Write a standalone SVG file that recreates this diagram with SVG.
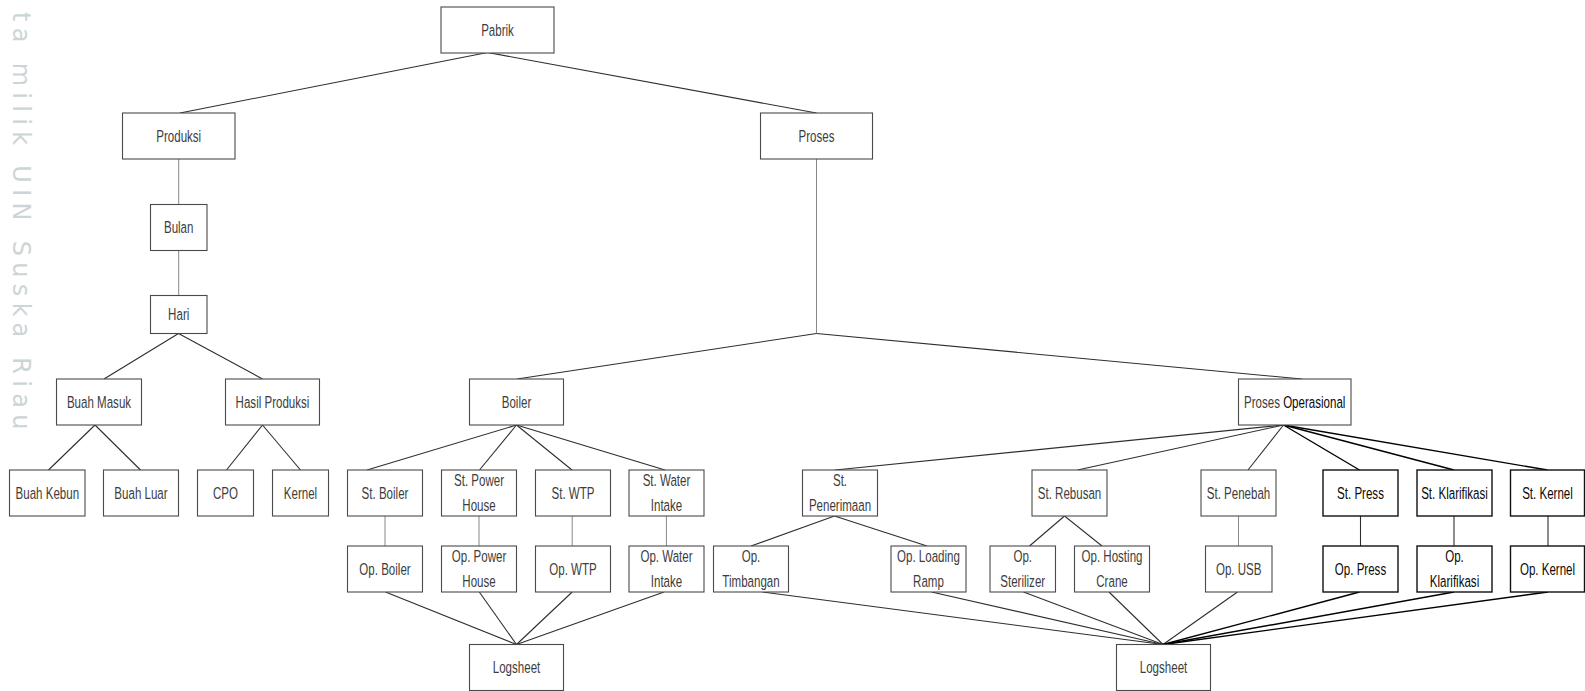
<svg xmlns="http://www.w3.org/2000/svg" width="1585" height="691" viewBox="0 0 1585 691">
  <style>
    .box { fill: #ffffff; stroke: #4a4a4a; stroke-width: 1.1; }
    .box.dark { stroke: #111111; stroke-width: 1.4; }
    text { font-family: "Liberation Sans", Arial, sans-serif; font-size: 16.5px; fill: #3d3d3d; text-anchor: middle; dominant-baseline: central; }
    text.dark, tspan.dark { fill: #0a0a0a; }
    .wm { font-family: "DejaVu Sans", sans-serif; font-size: 24px; fill: #ccd5d5; text-anchor: start; dominant-baseline: alphabetic; letter-spacing: 6.3px; }
    #connectors line { stroke: #2e2e2e; stroke-width: 1.1; }
    #connectors line.thin { stroke: #7a7a7a; stroke-width: 0.9; }
    #connectors line.dark { stroke: #000000; stroke-width: 1.4; }
  </style>

  <rect width="1585" height="691" fill="#ffffff"/>

  <!-- side watermark -->
  <text class="wm" transform="translate(13,12) rotate(90)">ta milik UIN Suska Riau</text>

  <!-- connectors -->
  <g id="connectors">
    <line x1="487.5" y1="52.5" x2="180" y2="113"/>
    <line x1="487.5" y1="52.5" x2="816.5" y2="113"/>
    <line class="thin" x1="178.7" y1="159" x2="178.7" y2="204.5"/>
    <line class="thin" x1="178.7" y1="250.5" x2="178.7" y2="295.5"/>
    <line x1="178.5" y1="333.5" x2="104" y2="379"/>
    <line x1="178.5" y1="333.5" x2="262.5" y2="379"/>
    <line x1="95" y1="425" x2="48.5" y2="470"/>
    <line x1="95" y1="425" x2="140.5" y2="470"/>
    <line x1="262.5" y1="425" x2="226.5" y2="470"/>
    <line x1="262.5" y1="425" x2="300.5" y2="470"/>

    <line class="thin" x1="816.5" y1="159" x2="816.5" y2="333.5"/>
    <line x1="816.5" y1="333.5" x2="517" y2="379"/>
    <line x1="816.5" y1="333.5" x2="1302" y2="379"/>

    <line x1="516.5" y1="425" x2="367" y2="470"/>
    <line x1="516.5" y1="425" x2="479.5" y2="470"/>
    <line x1="516.5" y1="425" x2="572" y2="470"/>
    <line x1="516.5" y1="425" x2="665" y2="470"/>
    <line class="thin" x1="385" y1="516" x2="385" y2="546"/>
    <line class="thin" x1="479" y1="516" x2="479" y2="546"/>
    <line class="thin" x1="572.2" y1="516" x2="572.2" y2="546"/>
    <line class="thin" x1="666.4" y1="516" x2="666.4" y2="546"/>
    <line x1="385.5" y1="592" x2="516.5" y2="644.5"/>
    <line x1="479.3" y1="592" x2="516.5" y2="644.5"/>
    <line x1="572.2" y1="592" x2="516.5" y2="644.5"/>
    <line x1="664" y1="592" x2="516.5" y2="644.5"/>

    <line x1="1283.5" y1="425" x2="835" y2="470"/>
    <line x1="1283.5" y1="425" x2="1077.5" y2="470"/>
    <line x1="1283.5" y1="425" x2="1248" y2="470"/>
    <line class="dark" x1="1283.5" y1="425" x2="1359.5" y2="470"/>
    <line class="dark" x1="1283.5" y1="425" x2="1454" y2="470"/>
    <line class="dark" x1="1283.5" y1="425" x2="1547.5" y2="470"/>
    <line x1="834.5" y1="516" x2="751" y2="546"/>
    <line x1="834.5" y1="516" x2="927" y2="546"/>
    <line x1="1064.5" y1="516" x2="1029.5" y2="546"/>
    <line x1="1064.5" y1="516" x2="1102" y2="546"/>
    <line class="thin" x1="1238.5" y1="516" x2="1238.5" y2="546"/>
    <line x1="1360.5" y1="516" x2="1360.5" y2="546"/>
    <line x1="1454" y1="516" x2="1454" y2="546"/>
    <line x1="1548" y1="516" x2="1548" y2="546"/>
    <line x1="762.5" y1="592" x2="1163" y2="644.5"/>
    <line x1="931.5" y1="592" x2="1163" y2="644.5"/>
    <line x1="1023.5" y1="592" x2="1163" y2="644.5"/>
    <line x1="1109" y1="592" x2="1163" y2="644.5"/>
    <line x1="1237.5" y1="592" x2="1163" y2="644.5"/>
    <line class="dark" x1="1359.5" y1="592" x2="1163" y2="644.5"/>
    <line class="dark" x1="1454" y1="592" x2="1163" y2="644.5"/>
    <line class="dark" x1="1548" y1="592" x2="1163" y2="644.5"/>
  </g>

  <!-- labels are set in a narrowed sans: translate to the label centre, then compress horizontally -->
  <!-- top level -->
  <g id="n-pabrik"><rect class="box" x="441" y="7" width="113" height="46"/><text transform="translate(497.5 30) scale(.7 1)">Pabrik</text></g>
  <g id="n-produksi"><rect class="box" x="122.5" y="113" width="112.5" height="46"/><text transform="translate(178.7 136) scale(.7 1)">Produksi</text></g>
  <g id="n-proses"><rect class="box" x="760.5" y="113" width="112" height="46"/><text transform="translate(816.5 136) scale(.7 1)">Proses</text></g>

  <!-- production branch -->
  <g id="n-bulan"><rect class="box" x="150.5" y="204.5" width="56.5" height="46"/><text transform="translate(178.7 227.5) scale(.7 1)">Bulan</text></g>
  <g id="n-hari"><rect class="box" x="150.5" y="295.5" width="56.5" height="38"/><text transform="translate(178.7 314.5) scale(.7 1)">Hari</text></g>
  <g id="n-buah-masuk"><rect class="box" x="56.5" y="379" width="85" height="46"/><text transform="translate(99 402) scale(.7 1)">Buah Masuk</text></g>
  <g id="n-hasil-produksi"><rect class="box" x="225.5" y="379" width="94" height="46"/><text transform="translate(272.5 402) scale(.7 1)">Hasil Produksi</text></g>
  <g id="n-buah-kebun"><rect class="box" x="9.5" y="470" width="75.5" height="46"/><text transform="translate(47.3 493) scale(.7 1)">Buah Kebun</text></g>
  <g id="n-buah-luar"><rect class="box" x="103.5" y="470" width="75" height="46"/><text transform="translate(141 493) scale(.7 1)">Buah Luar</text></g>
  <g id="n-cpo"><rect class="box" x="197.5" y="470" width="56" height="46"/><text transform="translate(225.5 493) scale(.7 1)">CPO</text></g>
  <g id="n-kernel"><rect class="box" x="272.5" y="470" width="56" height="46"/><text transform="translate(300.5 493) scale(.7 1)">Kernel</text></g>

  <!-- boiler branch -->
  <g id="n-boiler"><rect class="box" x="469.5" y="379" width="94" height="46"/><text transform="translate(516.5 402) scale(.7 1)">Boiler</text></g>
  <g id="n-st-boiler"><rect class="box" x="347.5" y="470" width="75" height="46"/><text transform="translate(385 493) scale(.7 1)">St. Boiler</text></g>
  <g id="n-st-power-house"><rect class="box" x="441.5" y="470" width="75" height="46"/><text transform="translate(479 480.7) scale(.7 1)">St. Power</text><text transform="translate(479 505) scale(.7 1)">House</text></g>
  <g id="n-st-wtp"><rect class="box" x="535.5" y="470" width="75" height="46"/><text transform="translate(573 493) scale(.7 1)">St. WTP</text></g>
  <g id="n-st-water-intake"><rect class="box" x="629" y="470" width="75" height="46"/><text transform="translate(666.5 480.7) scale(.7 1)">St. Water</text><text transform="translate(666.5 505) scale(.7 1)">Intake</text></g>
  <g id="n-op-boiler"><rect class="box" x="347.5" y="546" width="75" height="46"/><text transform="translate(385 569) scale(.7 1)">Op. Boiler</text></g>
  <g id="n-op-power-house"><rect class="box" x="441.5" y="546" width="75" height="46"/><text transform="translate(479 556.7) scale(.7 1)">Op. Power</text><text transform="translate(479 581) scale(.7 1)">House</text></g>
  <g id="n-op-wtp"><rect class="box" x="535.5" y="546" width="75" height="46"/><text transform="translate(573 569) scale(.7 1)">Op. WTP</text></g>
  <g id="n-op-water-intake"><rect class="box" x="629" y="546" width="75" height="46"/><text transform="translate(666.5 556.7) scale(.7 1)">Op. Water</text><text transform="translate(666.5 581) scale(.7 1)">Intake</text></g>
  <g id="n-logsheet-boiler"><rect class="box" x="469.5" y="644.5" width="94" height="46"/><text transform="translate(516.5 667.5) scale(.7 1)">Logsheet</text></g>

  <!-- operational branch -->
  <g id="n-proses-operasional"><rect class="box" x="1238.5" y="379" width="112.5" height="46"/><text transform="translate(1294.7 402) scale(.7 1)">Proses <tspan class="dark">Operasional</tspan></text></g>
  <g id="n-st-penerimaan"><rect class="box" x="802.5" y="470" width="75" height="46"/><text transform="translate(840 480.7) scale(.7 1)">St.</text><text transform="translate(840 505) scale(.7 1)">Penerimaan</text></g>
  <g id="n-st-rebusan"><rect class="box" x="1032" y="470" width="75" height="46"/><text transform="translate(1069.5 493) scale(.7 1)">St. Rebusan</text></g>
  <g id="n-st-penebah"><rect class="box" x="1201" y="470" width="75" height="46"/><text transform="translate(1238.5 493) scale(.7 1)">St. Penebah</text></g>
  <g id="n-st-press"><rect class="box dark" x="1323" y="470" width="75" height="46"/><text class="dark" transform="translate(1360.5 493) scale(.7 1)">St. Press</text></g>
  <g id="n-st-klarifikasi"><rect class="box dark" x="1417" y="470" width="75" height="46"/><text class="dark" transform="translate(1454.5 493) scale(.7 1)">St. Klarifikasi</text></g>
  <g id="n-st-kernel"><rect class="box dark" x="1510.5" y="470" width="74" height="46"/><text class="dark" transform="translate(1547.5 493) scale(.7 1)">St. Kernel</text></g>
  <g id="n-op-timbangan"><rect class="box" x="713.5" y="546" width="75" height="46"/><text transform="translate(751 556.7) scale(.7 1)">Op.</text><text transform="translate(751 581) scale(.7 1)">Timbangan</text></g>
  <g id="n-op-loading-ramp"><rect class="box" x="891" y="546" width="75" height="46"/><text transform="translate(928.5 556.7) scale(.7 1)">Op. Loading</text><text transform="translate(928.5 581) scale(.7 1)">Ramp</text></g>
  <g id="n-op-sterilizer"><rect class="box" x="990" y="546" width="65.5" height="46"/><text transform="translate(1022.7 556.7) scale(.7 1)">Op.</text><text transform="translate(1022.7 581) scale(.7 1)">Sterilizer</text></g>
  <g id="n-op-hosting-crane"><rect class="box" x="1074.5" y="546" width="75" height="46"/><text transform="translate(1112 556.7) scale(.7 1)">Op. Hosting</text><text transform="translate(1112 581) scale(.7 1)">Crane</text></g>
  <g id="n-op-usb"><rect class="box" x="1205.5" y="546" width="66.5" height="46"/><text transform="translate(1238.7 569) scale(.7 1)">Op. USB</text></g>
  <g id="n-op-press"><rect class="box dark" x="1323" y="546" width="75" height="46"/><text class="dark" transform="translate(1360.5 569) scale(.7 1)">Op. Press</text></g>
  <g id="n-op-klarifikasi"><rect class="box dark" x="1417" y="546" width="75" height="46"/><text class="dark" transform="translate(1454.5 556.7) scale(.7 1)">Op.</text><text class="dark" transform="translate(1454.5 581) scale(.7 1)">Klarifikasi</text></g>
  <g id="n-op-kernel"><rect class="box dark" x="1510.5" y="546" width="74" height="46"/><text class="dark" transform="translate(1547.5 569) scale(.7 1)">Op. Kernel</text></g>
  <g id="n-logsheet-proses"><rect class="box" x="1116.5" y="644.5" width="94" height="46"/><text transform="translate(1163.5 667.5) scale(.7 1)">Logsheet</text></g>
</svg>
